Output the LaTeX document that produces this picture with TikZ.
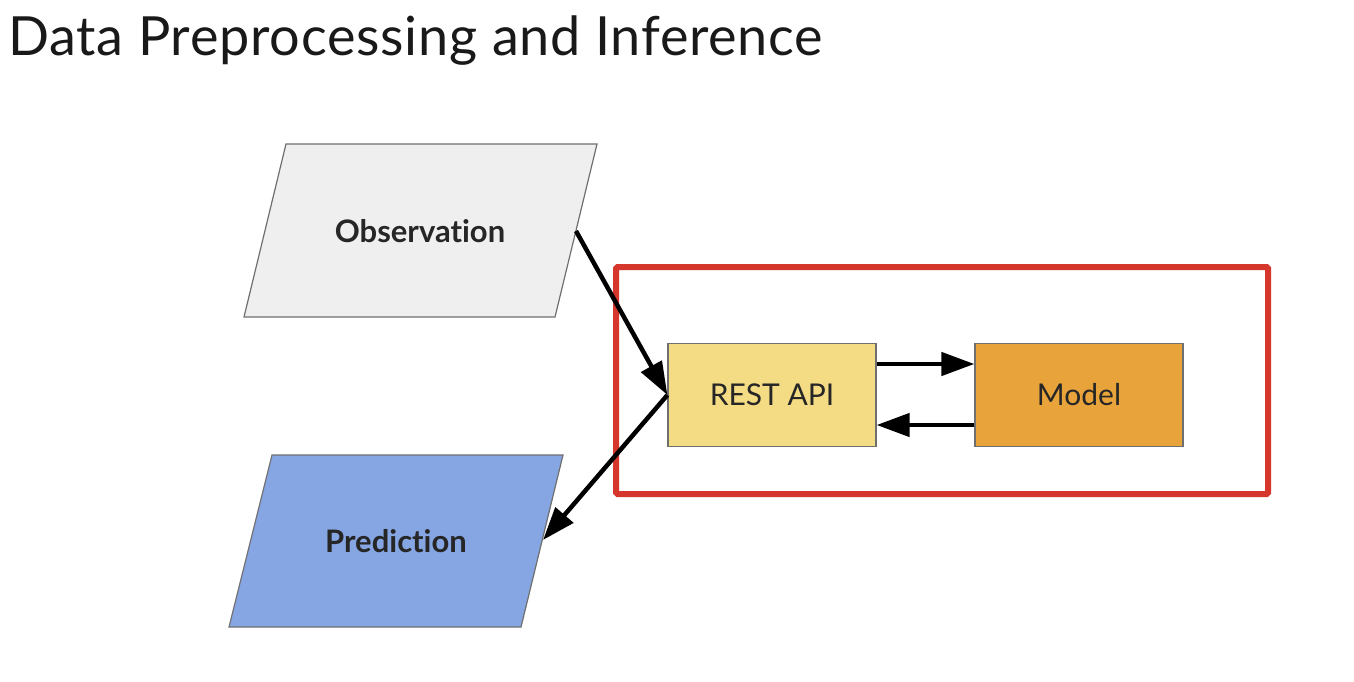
\documentclass[tikz,border=0pt]{standalone}
\usepackage{fontspec}
\setmainfont{Lato}[Ligatures=NoCommon]
\newfontfamily\titlefont{Lato}[Ligatures=NoCommon, LetterSpace=1.4]
\usetikzlibrary{arrows.meta}
\definecolor{obsfill}{HTML}{EFEFEF}
\definecolor{predfill}{HTML}{85A6E3}
\definecolor{restfill}{HTML}{F4DC85}
\definecolor{modelfill}{HTML}{E8A33A}
\definecolor{boxred}{HTML}{D6372C}
\definecolor{edgegray}{HTML}{6F6F6F}
\tikzset{
  shapebox/.style={draw=edgegray, line width=1.2pt},
  rectbox/.style={shapebox, minimum width=208pt, minimum height=103pt, inner sep=0pt, font=\fontsize{30}{34}\selectfont, text=black!85},
  flowarrow/.style={line width=4.5pt, -{Triangle[length=33pt,width=23pt]}},
  lbl/.style={font=\fontsize{31}{35}\selectfont\bfseries, text=black!85}
}
\begin{document}
\begin{tikzpicture}[x=1pt,y=-1pt]
\useasboundingbox (0,0) rectangle (1354,682);
\fill[white] (0,0) rectangle (1354,682);
% title
\node[anchor=base west, inner sep=0pt, text=black!90, font=\titlefont\fontsize{54}{62}\selectfont] (title) at (8,56) {Data Preprocessing and Inference};
% observation parallelogram
\draw[shapebox, fill=obsfill] (286,144) -- (597,144) -- (555,317) -- (244,317) -- cycle;
\node[lbl] (obs) at (420,231) {Observation};
\coordinate (obsout) at (576,231);
% prediction parallelogram
\draw[shapebox, fill=predfill] (272,455) -- (563,455) -- (521,627) -- (229,627) -- cycle;
\node[lbl] (pred) at (396,541) {Prediction};
\coordinate (predin) at (543,540);
% red box
\draw[boxred, line width=6pt, rounded corners=1.5pt] (616,267) rectangle (1268,494);
% rest and model
\node[rectbox, fill=restfill] (rest) at (772,395) {REST API};
\node[rectbox, fill=modelfill] (model) at (1079,395) {Model};
% arrows
\draw[flowarrow] (obsout) -- (rest.west);
\draw[flowarrow] (rest.west) -- (predin);
\draw[flowarrow] (rest.east |- 0,364) -- (model.west |- 0,364);
\draw[flowarrow] (model.west |- 0,425) -- (rest.east |- 0,425);
\end{tikzpicture}
\end{document}
